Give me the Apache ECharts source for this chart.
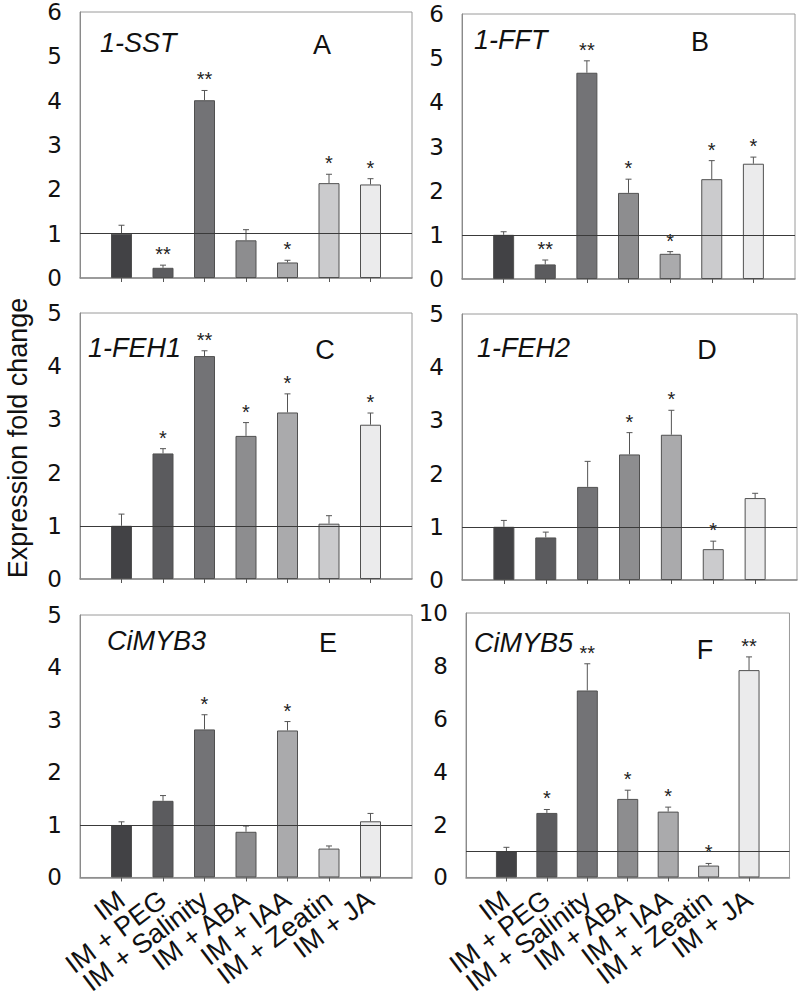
<!DOCTYPE html>
<html>
<head>
<meta charset="utf-8">
<script src="https://cdn.jsdelivr.net/npm/echarts@6/dist/echarts.min.js"></script>
<style>
html,body{margin:0;padding:0;background:#fff;}
#chart{width:800px;height:998px;}
</style>
</head>
<body>
<div id="chart"></div>
<script>
// ---- Data ----
const categories = ['IM', 'IM + PEG', 'IM + Salinity', 'IM + ABA', 'IM + IAA', 'IM + Zeatin', 'IM + JA'];

const sstMean = [1.0, 0.23, 4.01, 0.85, 0.35, 2.14, 2.11];
const sstErr  = [0.19, 0.06, 0.22, 0.24, 0.05, 0.20, 0.13];
const sstSig  = ['', '**', '**', '', '*', '*', '*'];

const fftMean = [1.0, 0.33, 4.67, 1.95, 0.57, 2.26, 2.61];
const fftErr  = [0.07, 0.10, 0.27, 0.31, 0.05, 0.42, 0.15];
const fftSig  = ['', '**', '**', '*', '*', '*', '*'];

const feh1Mean = [1.0, 2.36, 4.19, 2.69, 3.13, 1.04, 2.90];
const feh1Err  = [0.22, 0.09, 0.10, 0.25, 0.35, 0.15, 0.22];
const feh1Sig  = ['', '*', '**', '*', '*', '', '*'];

const feh2Mean = [1.0, 0.80, 1.75, 2.36, 2.73, 0.58, 1.54];
const feh2Err  = [0.12, 0.10, 0.48, 0.41, 0.46, 0.15, 0.09];
const feh2Sig  = ['', '', '', '*', '*', '*', ''];

const myb3Mean = [1.0, 1.46, 2.82, 0.87, 2.80, 0.55, 1.07];
const myb3Err  = [0.06, 0.10, 0.28, 0.11, 0.17, 0.05, 0.15];
const myb3Sig  = ['', '', '*', '', '*', '', ''];

const myb5Mean = [1.0, 2.44, 7.07, 2.97, 2.49, 0.45, 7.84];
const myb5Err  = [0.14, 0.13, 1.01, 0.33, 0.17, 0.08, 0.50];
const myb5Sig  = ['', '*', '**', '*', '*', '*', '**'];

const barColors = ['#424245', '#5b5b5e', '#737376', '#8d8d8f', '#aaaaac', '#cbcbcd', '#ebebec'];

// ---- Layout ----
const FONT = "'Liberation Sans', Arial, sans-serif";
const NUMFONT = "'DejaVu Sans', 'Liberation Sans', sans-serif";
const panels = [
  {gene: '1-SST',  letter: 'A', mean: sstMean,  err: sstErr,  sig: sstSig,  max: 6,  step: 1, grid: {left: 80,  top: 12,  width: 332, height: 266}, gx: 100, gy: 45,  lx: 322, ly: 45,  labels: false},
  {gene: '1-FFT',  letter: 'B', mean: fftMean,  err: fftErr,  sig: fftSig,  max: 6,  step: 1, grid: {left: 462, top: 14,  width: 333, height: 265}, gx: 474, gy: 42,  lx: 700, ly: 42,  labels: false},
  {gene: '1-FEH1', letter: 'C', mean: feh1Mean, err: feh1Err, sig: feh1Sig, max: 5,  step: 1, grid: {left: 80,  top: 313, width: 332, height: 266}, gx: 88,  gy: 350, lx: 325, ly: 350, labels: false},
  {gene: '1-FEH2', letter: 'D', mean: feh2Mean, err: feh2Err, sig: feh2Sig, max: 5,  step: 1, grid: {left: 462, top: 314, width: 335, height: 266}, gx: 477, gy: 350, lx: 707, ly: 350, labels: false},
  {gene: 'CiMYB3', letter: 'E', mean: myb3Mean, err: myb3Err, sig: myb3Sig, max: 5,  step: 1, grid: {left: 80,  top: 615, width: 332, height: 266}, gx: 107, gy: 643, lx: 328, ly: 643, labels: true},
  {gene: 'CiMYB5', letter: 'F', mean: myb5Mean, err: myb5Err, sig: myb5Sig, max: 10, step: 2, grid: {left: 466, top: 613, width: 331, height: 266}, gx: 474, gy: 645, lx: 705, ly: 650, labels: true}
];

const axisCats = [''].concat(categories, [' ']);

const grids = [], xAxes = [], yAxes = [], series = [], graphics = [];

panels.forEach((p, k) => {
  grids.push(Object.assign({show: true, borderColor: '#9a9a9a', borderWidth: 1, backgroundColor: '#fff'}, p.grid));
  xAxes.push({
    type: 'category', gridIndex: k, data: axisCats, boundaryGap: false,
    axisLine: {lineStyle: {color: '#8a8a8a', width: 1.5}},
    axisTick: {show: true, length: 4, inside: false, interval: (i) => i > 0 && i < axisCats.length - 1, lineStyle: {color: '#555'}},
    axisLabel: {show: p.labels, rotate: 37, fontSize: 27, fontFamily: FONT, color: '#111', margin: 19, interval: 0},
    splitLine: {show: false}
  });
  yAxes.push({
    type: 'value', gridIndex: k, min: 0, max: p.max, interval: p.step,
    axisLine: {show: true, lineStyle: {color: '#8a8a8a', width: 1}},
    axisTick: {show: false},
    axisLabel: {fontSize: 23, lineHeight: 22, fontFamily: NUMFONT, color: '#111', margin: 18},
    splitLine: {show: false}
  });
  const barData = [null].concat(p.mean.map((v, i) => ({value: v, itemStyle: {color: barColors[i]}})), [null]);
  series.push({
    type: 'bar', xAxisIndex: k, yAxisIndex: k, data: barData, barWidth: 21,
    itemStyle: {borderColor: '#505050', borderWidth: 1},
    silent: true, animation: false,
    markLine: {
      silent: true, symbol: ['none', 'none'], label: {show: false},
      lineStyle: {color: '#3a3a3a', width: 1, type: 'solid'},
      data: [{yAxis: 1}], animation: false
    },
    z: 2
  });
  const errData = p.mean.map((v, i) => [i + 1, v, p.err[i], i]);
  const sig = p.sig;
  series.push({
    type: 'custom', xAxisIndex: k, yAxisIndex: k, data: errData, encode: {x: 0, y: 1},
    silent: true, animation: false, z: 3,
    renderItem: function (params, api) {
      const x = api.value(0), m = api.value(1), e = api.value(2), idx = api.value(3);
      const p0 = api.coord([x, m]);
      const p1 = api.coord([x, m + e]);
      const children = [
        {type: 'line', shape: {x1: p0[0], y1: p0[1], x2: p1[0], y2: p1[1]}, style: {stroke: '#555', lineWidth: 1}},
        {type: 'line', shape: {x1: p1[0] - 3, y1: p1[1], x2: p1[0] + 3, y2: p1[1]}, style: {stroke: '#555', lineWidth: 1}}
      ];
      if (sig[idx]) {
        children.push({type: 'text', x: p1[0], y: p1[1] - 1, style: {text: sig[idx], font: '20px ' + FONT, fill: '#222', align: 'center', verticalAlign: 'bottom'}});
      }
      return {type: 'group', children: children};
    }
  });
  graphics.push({type: 'text', left: p.gx, top: p.gy - 16, style: {text: p.gene, font: 'italic 27px ' + FONT, fill: '#111'}, z: 10});
  graphics.push({type: 'text', x: p.lx, y: p.ly, style: {text: p.letter, font: '27px ' + FONT, fill: '#111', align: 'center', verticalAlign: 'middle'}, z: 10});
});

graphics.push({type: 'text', x: 18, y: 438, rotation: Math.PI / 2, style: {text: 'Expression fold change', font: '27px ' + FONT, fill: '#111', align: 'center', verticalAlign: 'middle'}, z: 10});

const chart = echarts.init(document.getElementById('chart'), null, {renderer: 'svg'});
chart.setOption({
  animation: false,
  backgroundColor: '#fff',
  grid: grids, xAxis: xAxes, yAxis: yAxes, series: series, graphic: graphics
});
</script>
</body>
</html>
